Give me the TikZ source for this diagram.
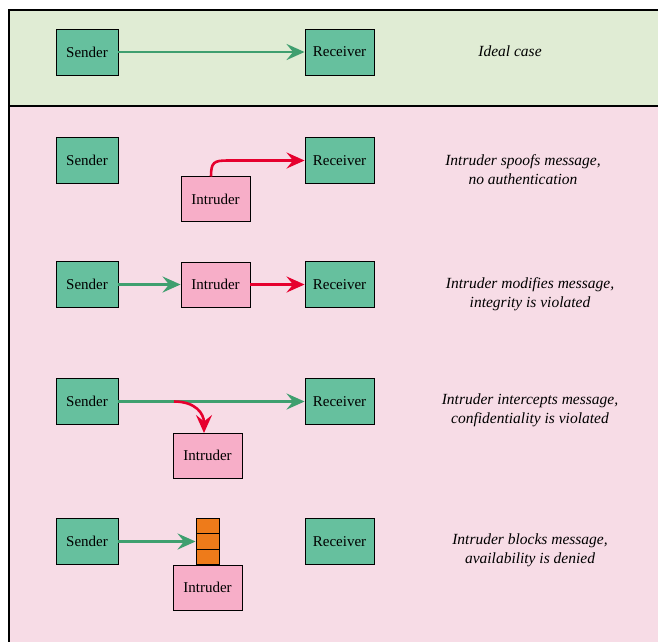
\documentclass[tikz,border=0pt]{standalone}
\usepackage{fontspec}
\setmainfont{Liberation Serif}
\usetikzlibrary{arrows.meta}
\definecolor{boxgreen}{HTML}{66C09E}
\definecolor{bggreen}{HTML}{E0ECD4}
\definecolor{bgpink}{HTML}{F7DCE6}
\definecolor{intpink}{HTML}{F7AEC8}
\definecolor{arrgreen}{HTML}{3F9F6F}
\definecolor{arrred}{HTML}{E6002E}
\definecolor{blockorange}{HTML}{EE7B1A}
\tikzset{
  party/.style={draw=black, line width=0.9pt, fill=boxgreen, minimum width=62pt, minimum height=46pt, inner sep=0pt, font=\fontsize{15}{17}\selectfont},
  wide/.style={minimum width=69pt},
  intr/.style={draw=black, line width=0.9pt, fill=intpink, minimum width=69pt, minimum height=45pt, inner sep=0pt, font=\fontsize{15}{17}\selectfont},
  blk/.style={draw=black, line width=0.9pt, fill=blockorange, minimum width=23pt, minimum height=15.3pt, inner sep=0pt},
  desc/.style={align=center, font=\fontsize{15.5}{18.5}\selectfont\itshape},
  garr/.style={draw=arrgreen, line width=2.8pt, -{Stealth[length=18pt, width=16pt, inset=6.5pt]}},
  rarr/.style={draw=arrred, line width=2.6pt, -{Stealth[length=18pt, width=16pt, inset=6.5pt]}},
}
\begin{document}
\begin{tikzpicture}[x=1pt,y=-1pt]
\useasboundingbox (0,0) rectangle (658,641);
\fill[white] (0,0) rectangle (658,641);
\fill[bggreen] (9,10) rectangle (670,106);
\fill[bgpink] (9,106) rectangle (670,660);
\draw[line width=1.6pt] (670,10) -- (9,10) -- (9,660);
\draw[line width=1.6pt] (9,106) -- (670,106);

% Row 1
\node[party] (s1) at (87,52) {Sender};
\node[party, wide] (r1) at (339.5,52) {Receiver};
\node[desc] (d1) at (510,51) {Ideal case};
\draw[garr] (s1) -- (r1);

% Row 2
\node[party] (s2) at (87,160.5) {Sender};
\node[party, wide] (r2) at (339.5,160.5) {Receiver};
\node[intr] (i2) at (215.5,199) {Intruder};
\node[desc] (d2) at (523,169.5) {Intruder spoofs message,\\ no authentication};
\coordinate (c2) at (211,176.5);
\draw[rarr] (c2) .. controls (211,162) and (214,160.5) .. (228,160.5) -- (r2.west |- 0,160.5);

% Row 3
\node[party] (s3) at (87,284.5) {Sender};
\node[intr] (i3) at (215.5,284.5) {Intruder};
\node[party, wide] (r3) at (339.5,284.5) {Receiver};
\node[desc] (d3) at (530,294) {Intruder modifies message,\\ integrity is violated};
\draw[garr] (s3) -- (i3);
\draw[rarr] (i3) -- (r3);

% Row 4
\node[party] (s4) at (87,401.5) {Sender};
\node[party, wide] (r4) at (339.5,401.5) {Receiver};
\node[intr] (i4) at (207.5,455.5) {Intruder};
\node[desc] (d4) at (530,410.5) {Intruder intercepts message,\\ confidentiality is violated};
\draw[garr] (s4) -- (r4);
\coordinate (c4) at (174,401.5);
\draw[rarr] (c4) .. controls (196,401.5) and (204,414) .. (204,433);

% Row 5
\node[party] (s5) at (87,541.5) {Sender};
\node[party, wide] (r5) at (339.5,541.5) {Receiver};
\node[intr] (i5) at (207.5,587.5) {Intruder};
\node[blk] (b1) at (207.5,526.2) {};
\node[blk] (b2) at (207.5,541.5) {};
\node[blk] (b3) at (207.5,556.8) {};
\node[desc] (d5) at (530,550.5) {Intruder blocks message,\\ availability is denied};
\draw[garr] (s5) -- (b2);
\end{tikzpicture}
\end{document}
